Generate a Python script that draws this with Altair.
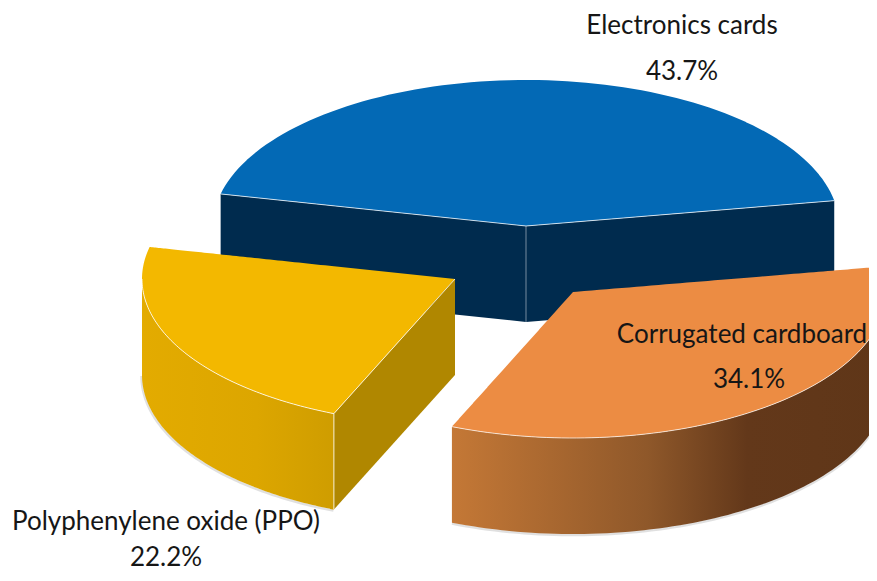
import numpy as np
import pandas as pd
import altair as alt

labels = ["Electronics cards", "Corrugated cardboard", "Polyphenylene oxide (PPO)"]
shares = [43.7, 34.1, 22.2]
top_colors = ["#0369b5", "#ec8c43", "#f3b800"]
label_font = "Lato"

# projection of the tilted disc
RX, RY, DEPTH = 313.0, 146.0, 96.0
START_ANGLE = -10.0
apex = {"orange": (573.0, 292.0), "yellow": (455.0, 279.0), "blue": (526.0, 226.0)}

a0 = START_ANGLE
a1 = a0 + shares[1] * 3.6
a2 = a1 + shares[2] * 3.6
a3 = a2 + shares[0] * 3.6

W, H = 861, 565
XS = alt.Scale(domain=[8, 8 + W], range=[0, W])
YS = alt.Scale(domain=[8, 8 + H], range=[0, H])


def arc(c, t0, t1, n=90):
    t = np.radians(np.linspace(t0, t1, n))
    return np.c_[c[0] + RX * np.cos(t), c[1] + RY * np.sin(t)]


def band(poly):
    poly = np.asarray(poly)
    n = len(poly)
    xs = np.unique(np.r_[poly[:, 0] - 0.01, poly[:, 0] + 0.01])
    xs = xs[(xs >= poly[:, 0].min()) & (xs <= poly[:, 0].max())]
    rows = []
    for x in xs:
        ys = []
        for i in range(n):
            p, q = poly[i], poly[(i + 1) % n]
            lo, hi = min(p[0], q[0]), max(p[0], q[0])
            if lo <= x <= hi and hi > lo:
                ys.append(p[1] + (x - p[0]) / (q[0] - p[0]) * (q[1] - p[1]))
        if ys:
            rows.append((x, min(ys), max(ys)))
    return pd.DataFrame(rows, columns=["x", "y", "y2"])


def area(poly, color):
    return alt.Chart(band(poly)).mark_area(color=color, clip=True, interpolate="linear").encode(
        x=alt.X("x:Q", scale=XS, axis=None),
        y=alt.Y("y:Q", scale=YS, axis=None),
        y2="y2:Q",
    )


def edge(points, color="#ffffff", opacity=0.75, width=1.0):
    df = pd.DataFrame(points, columns=["x", "y"]).assign(o=range(len(points)))
    return alt.Chart(df).mark_line(color=color, opacity=opacity, strokeWidth=width, clip=True).encode(
        x=alt.X("x:Q", scale=XS, axis=None),
        y=alt.Y("y:Q", scale=YS, axis=None),
        order="o:Q",
    )


def grad(stops):
    return alt.Gradient(
        gradient="linear", x1=0, x2=1, y1=0, y2=0,
        stops=[alt.GradientStop(offset=o, color=c) for o, c in stops],
    )


layers = []

# blue slice
c = np.array(apex["blue"])
blue_arc = arc(c, a2, a3)
pL, pR = blue_arc[0], blue_arc[-1]
layers.append(area([pL, pL + [0, DEPTH], c + [0, DEPTH], c], "#002b4e"))
layers.append(area([c, c + [0, DEPTH], pR + [0, DEPTH], pR], "#002b4e"))
layers.append(area(np.vstack([blue_arc, c]), top_colors[0]))
layers.append(edge([pL, c, pR]))
layers.append(edge([c, c + [0, DEPTH]], opacity=0.45))

# yellow slice
c = np.array(apex["yellow"])
yellow_arc = arc(c, a1, a2)
front = arc(c, a1, 180)
pA = yellow_arc[0]
layers.append(edge(list(front + [-0.5, DEPTH + 1]) , color="#555555", opacity=0.18, width=2.5))
layers.append(area([c, c + [0, DEPTH], pA + [0, DEPTH], pA], "#b08700"))
layers.append(area(np.vstack([front, (front + [0, DEPTH])[::-1]]),
                   grad([(0, "#e3ab00"), (0.6, "#dca600"), (1, "#cf9d00")])))
layers.append(area(np.vstack([yellow_arc, c]), top_colors[2]))
layers.append(edge(list(front), opacity=0.8))
layers.append(edge([c, pA, pA + [0, DEPTH]], opacity=0.8))

# orange slice
c = np.array(apex["orange"])
orange_arc = arc(c, a0, a1)
layers.append(edge(list(orange_arc + [0, DEPTH + 1]), color="#555555", opacity=0.18, width=2.5))
layers.append(area(np.vstack([orange_arc, (orange_arc + [0, DEPTH])[::-1]]),
                   grad([(0, "#c47836"), (0.45, "#8f582a"), (0.68, "#63381a"), (1, "#5f3618")])))
layers.append(area(np.vstack([orange_arc, c]), top_colors[1]))
layers.append(edge(list(orange_arc), opacity=0.7))

# labels
name_x = [682, 742, 166]
name_y = [26, 335, 522]
pct_x = [682, 749, 166]
pct_y = [72, 380, 558]
txt = pd.DataFrame({
    "x": name_x + pct_x,
    "y": name_y + pct_y,
    "t": labels + [f"{s:.1f}%" for s in shares],
})
layers.append(alt.Chart(txt).mark_text(font=label_font, fontSize=26, color="#161616", align="center", baseline="middle").encode(
    x=alt.X("x:Q", scale=XS, axis=None),
    y=alt.Y("y:Q", scale=YS, axis=None),
    text="t:N",
))

chart = alt.layer(*layers).properties(
    width=W, height=H, padding=0, autosize=alt.AutoSizeParams(type="none"),
    background="#ffffff",
).configure_view(stroke=None)

chart.save("out.html", embed_options={"renderer": "svg", "actions": False})
